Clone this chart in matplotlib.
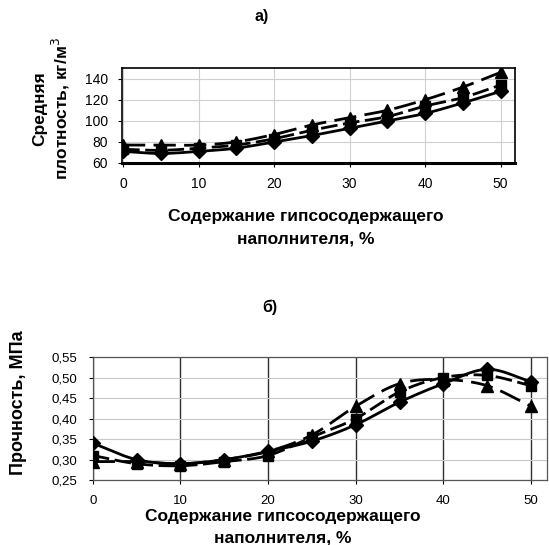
import numpy as np
import matplotlib
matplotlib.use('Agg')
import matplotlib.pyplot as plt
from matplotlib.ticker import FuncFormatter

plt.rcParams['font.family'] = ['Liberation Sans', 'DejaVu Sans']

# gypsum filler content, %
x = [0, 5, 10, 15, 20, 25, 30, 35, 40, 45, 50]

# a) average density, kg/m3
dens_diamond = [71, 69, 71, 74, 80, 86, 93, 100, 107, 117, 128]
dens_square = [73, 72, 74, 77, 83, 91, 98, 104, 114, 122, 134]
dens_triangle = [77, 77, 77, 80, 87, 96, 103, 110, 120, 132, 146]

# b) strength, MPa
str_diamond = [0.34, 0.30, 0.29, 0.30, 0.32, 0.345, 0.385, 0.44, 0.485, 0.52, 0.49]
str_square = [0.31, 0.29, 0.285, 0.295, 0.31, 0.355, 0.40, 0.465, 0.50, 0.505, 0.48]
str_triangle = [0.295, 0.295, 0.29, 0.30, 0.32, 0.36, 0.43, 0.485, 0.495, 0.48, 0.43]

dens_ticks = [60, 80, 100, 120, 140]
str_ticks = [0.25, 0.30, 0.35, 0.40, 0.45, 0.50, 0.55]
x_ticks = [0, 10, 20, 30, 40, 50]

xlabel = 'Содержание гипсосодержащего\nнаполнителя, %'


def smooth(xs, ys, n=20):
    # Catmull-Rom curve through the points, like Excel "smoothed line"
    xs = np.asarray(xs, float)
    ys = np.asarray(ys, float)
    px = np.concatenate([[2 * xs[0] - xs[1]], xs, [2 * xs[-1] - xs[-2]]])
    py = np.concatenate([[2 * ys[0] - ys[1]], ys, [2 * ys[-1] - ys[-2]]])
    ox, oy = [], []
    t = np.linspace(0, 1, n, endpoint=False)
    for i in range(1, len(px) - 2):
        for p, o in ((px, ox), (py, oy)):
            p0, p1, p2, p3 = p[i - 1], p[i], p[i + 1], p[i + 2]
            o.extend(0.5 * (2 * p1 + (-p0 + p2) * t + (2 * p0 - 5 * p1 + 4 * p2 - p3) * t**2
                            + (-p0 + 3 * p1 - 3 * p2 + p3) * t**3))
    ox.append(xs[-1])
    oy.append(ys[-1])
    return ox, oy


def draw(ax, ys, marker, ls, ms):
    sx, sy = smooth(x, ys)
    ax.plot(sx, sy, color='black', lw=2, ls=ls, zorder=3)
    ax.plot(x, ys, ls='none', marker=marker, ms=ms, color='black', zorder=4)


fig = plt.figure(figsize=(5.49, 5.45), dpi=100)

# ---- a) ----
ax1 = fig.add_axes([0.222, 0.701, 0.716, 0.174])
draw(ax1, dens_diamond, 'D', '-', 7)
draw(ax1, dens_square, 's', (0, (6, 2)), 7)
draw(ax1, dens_triangle, '^', (0, (8, 3)), 8)
ax1.set_xlim(-0.15, 51.9)
ax1.set_ylim(60, 150)
ax1.set_xticks(x_ticks)
ax1.set_yticks(dens_ticks)
ax1.grid(True, color='#d0d0d0', lw=0.8)
ax1.tick_params(labelsize=10, length=3, width=0.8, pad=7)
for s in ax1.spines.values():
    s.set_linewidth(1.2)
ax1.spines['bottom'].set_linewidth(2.2)

fig.text(0.477, 0.969, 'а)', ha='center', va='center', fontsize=11.5, fontweight='bold')
fig.text(0.095, 0.80, 'Средняя\nплотность, кг/м$^3$', rotation=90, ha='center', va='center',
         fontsize=12.5, fontweight='bold', linespacing=1.2)
fig.text(0.557, 0.582, xlabel, ha='center', va='center', fontsize=12.5, fontweight='bold',
         linespacing=1.6)

# ---- b) ----
ax2 = fig.add_axes([0.169, 0.119, 0.827, 0.226])
draw(ax2, str_diamond, 'D', '-', 7)
draw(ax2, str_square, 's', (0, (6, 2)), 7)
draw(ax2, str_triangle, '^', (0, (8, 3)), 8)
ax2.set_xlim(0, 51.8)
ax2.set_ylim(0.25, 0.55)
ax2.set_xticks(x_ticks)
ax2.set_yticks(str_ticks)
ax2.yaxis.set_major_formatter(FuncFormatter(lambda v, p: f'{v:.2f}'.replace('.', ',')))
ax2.yaxis.grid(True, color='#c8c8c8', lw=0.8)
ax2.xaxis.grid(True, color='#303030', lw=1.0)
ax2.set_axisbelow(True)
ax2.tick_params(labelsize=9.5, length=3, width=0.8, pad=8)
for s in ax2.spines.values():
    s.set_linewidth(0.9)
    s.set_color('#555555')

fig.text(0.492, 0.437, 'б)', ha='center', va='center', fontsize=11.5, fontweight='bold')
fig.text(0.033, 0.262, 'Прочность, МПа', rotation=90, ha='center', va='center',
         fontsize=13, fontweight='bold')
fig.text(0.515, 0.033, xlabel, ha='center', va='center', fontsize=12.5, fontweight='bold',
         linespacing=1.5)

fig.savefig('out.png', dpi=100)
